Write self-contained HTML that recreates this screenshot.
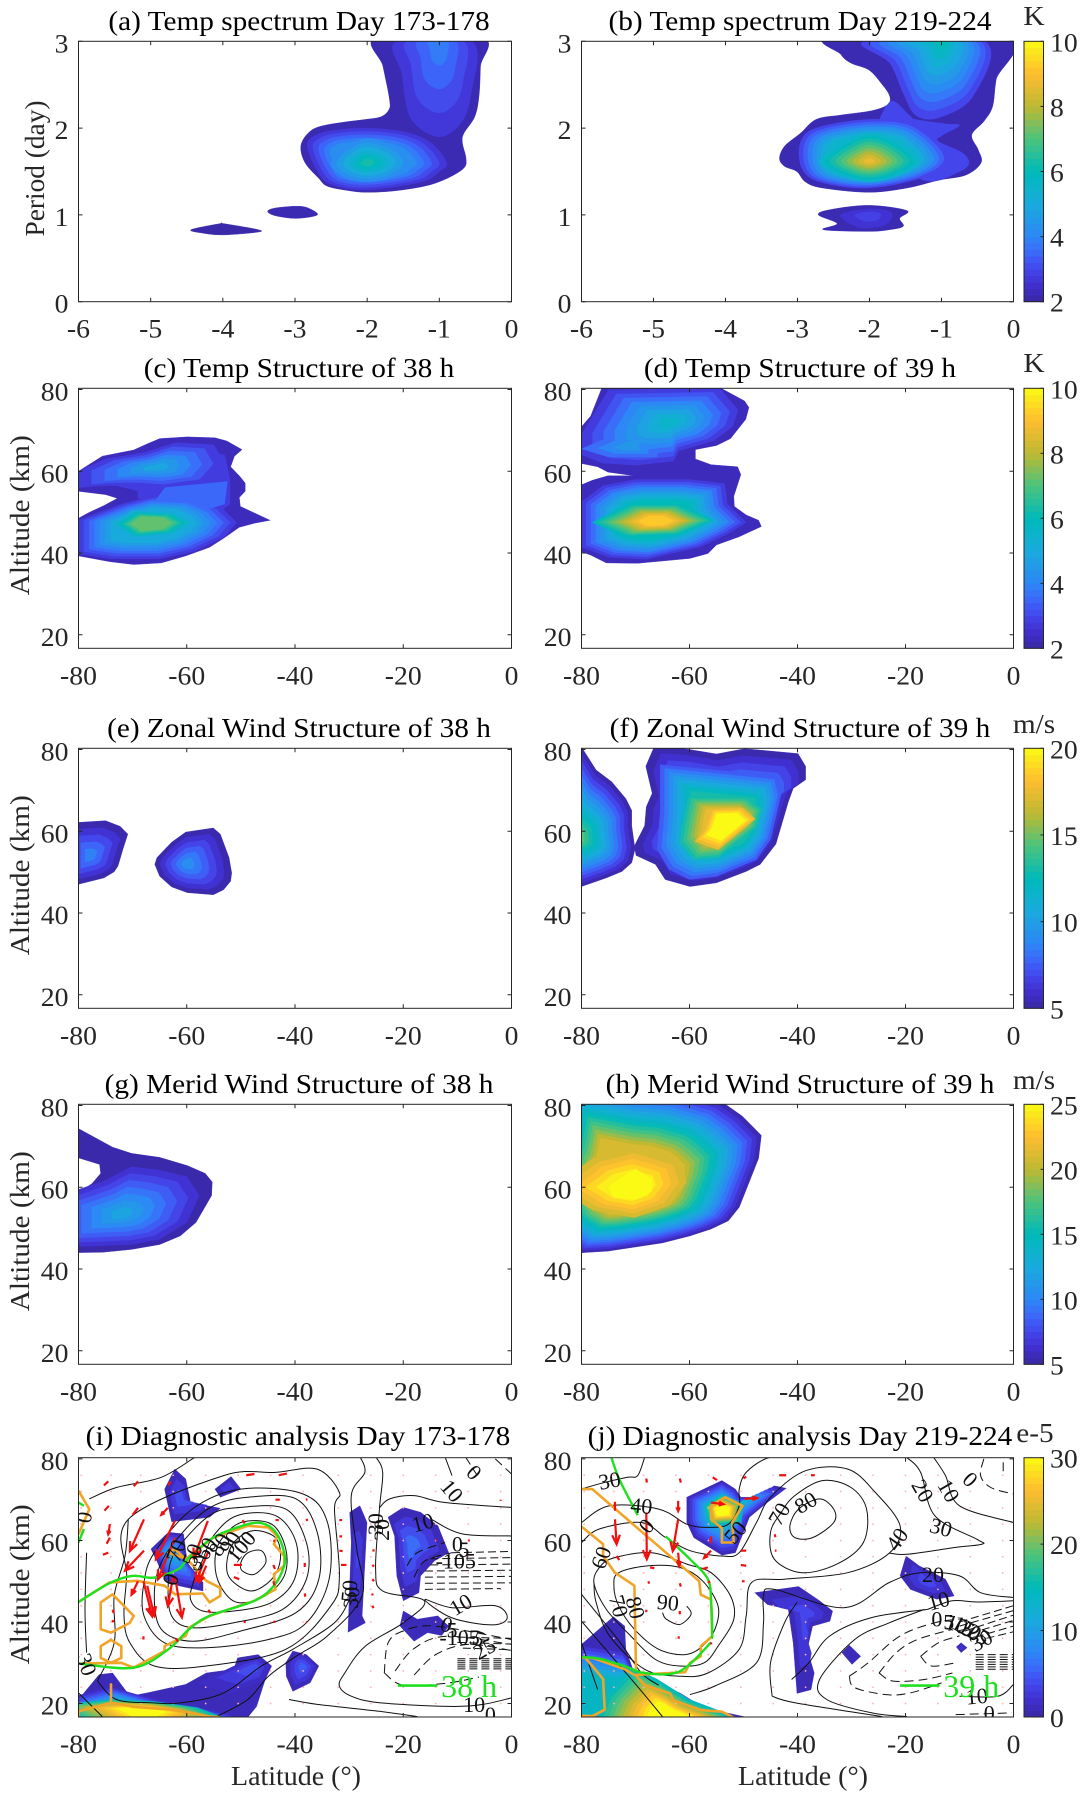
<!DOCTYPE html>
<html lang="en">
<head>
<meta charset="utf-8">
<title>Temperature and wind structure panels</title>
<style>
html,body{margin:0;padding:0;background:#fff;}
svg{display:block;font-family:"Liberation Serif",serif;}
</style>
</head>
<body>
<svg id="figure" xmlns="http://www.w3.org/2000/svg" width="1087" height="1799" viewBox="0 0 1087 1799"></svg>
<script>
// ---------- tick labels ----------
const periodTicks=[0,1,2,3];
const waveTicks=[-6,-5,-4,-3,-2,-1,0];
const altTicks=[20,40,60,80];
const latTicks=[-80,-60,-40,-20,0];
const cbarTempTicks=[2,4,6,8,10];
const cbarZonalTicks=[5,10,15,20];
const cbarMeridTicks=[5,10,15,20,25];
const cbarDiagTicks=[0,10,20,30];

// ---------- filled contour data: [low level, high level, centre, inner scale, outline] ----------
const blobsA=[
 [2.2,2.2,[-2,1.6],1,[[-1.86,3.05],[-1.78,2.71],[-1.69,2.33],[-1.70,2.21],[-1.81,2.13],[-2.02,2.10],[-2.31,2.07],[-2.65,2.02],[-2.82,1.94],[-2.92,1.79],[-2.86,1.6],[-2.67,1.42],[-2.55,1.33],[-2.26,1.28],[-2.0,1.26],[-1.59,1.28],[-1.16,1.34],[-.87,1.43],[-.66,1.54],[-.63,1.65],[-.68,1.83],[-.66,1.94],[-.51,2.13],[-.45,2.37],[-.43,2.71],[-.42,3.05]]],
 [2.7,4.2,[-1,3],0,[[-1.59,3],[-1.52,2.63],[-1.40,2.12],[-1.02,1.9],[-.70,2.06],[-.56,2.4],[-.55,3]]],
 [2.7,4.2,[-2,1.6],.62,[[-2.83,1.79],[-2.75,1.90],[-2.5,1.97],[-2,2.0],[-1.45,1.95],[-1.1,1.82],[-.9,1.6],[-1.0,1.5],[-1.25,1.38],[-2,1.29],[-2.5,1.35],[-2.7,1.52]]],
 [4.2,6.7,[-2,1.6],0,[[-2.5,1.6],[-2.3,1.78],[-2,1.88],[-1.6,1.78],[-1.4,1.6],[-1.6,1.45],[-2,1.38],[-2.35,1.45]]],
 [2.1,2.6,[-4,.84],0,[[-4.44,.83],[-4.04,.9],[-3.99,.9],[-3.51,.83],[-3.53,.8],[-3.99,.77],[-4.28,.79]]],
 [2.2,2.3,[-3,1.03],0,[[-3.38,1.04],[-3.27,1.08],[-2.98,1.1],[-2.82,1.08],[-2.69,1.0],[-2.98,.96],[-3.27,.99]]]
];
const blobsB=[
 [2.2,2.2,[-2,1.6],1,[[-2.51,3.05],[-2.40,2.85],[-2.26,2.75],[-2.01,2.67],[-1.84,2.52],[-1.72,2.37],[-1.75,2.27],[-1.97,2.2],[-2.40,2.15],[-2.74,2.1],[-2.96,1.94],[-3.18,1.79],[-3.25,1.65],[-3.18,1.56],[-3.01,1.5],[-2.89,1.38],[-2.65,1.31],[-2.01,1.26],[-1.48,1.31],[-1.04,1.4],[-.66,1.46],[-.45,1.6],[-.49,1.75],[-.58,1.92],[-.41,2.08],[-.29,2.25],[-.24,2.56],[-.11,3.05]]],
 [3,3,[-1,1.7],1,[[-1.72,2.3],[-1.45,2.15],[-1.36,2.1],[-.95,2.05],[-.75,2.03],[-.98,1.92],[-1.05,1.85],[-.72,1.72],[-.62,1.6],[-.75,1.5],[-1.24,1.4],[-1.9,1.8]]],
 [3,6.4,[-1,3],0,[[-2.06,3],[-1.72,2.75],[-1.53,2.4],[-1.36,2.15],[-1.04,2.12],[-.56,2.37],[-.41,3]]],
 [3,5.5,[-2,1.62],.62,[[-2.96,1.83],[-2.74,2.0],[-2.01,2.1],[-1.36,2.04],[-.9,1.67],[-1.24,1.44],[-2.01,1.31],[-2.69,1.38],[-2.94,1.54]]],
 [5.5,9.1,[-2,1.62],0,[[-2.7,1.62],[-2.35,1.85],[-2,1.95],[-1.6,1.85],[-1.3,1.62],[-1.6,1.45],[-2,1.38],[-2.4,1.45]]],
 [2.2,2.2,[-2,.97],1,[[-2.71,1.0],[-2.55,1.06],[-2.01,1.11],[-1.48,1.05],[-1.58,.96],[-1.53,.87],[-1.72,.83],[-2.01,.81],[-2.64,.83],[-2.45,.9]]],
 [2.6,3.2,[-2,1.0],0,[[-2.4,1.0],[-2,1.07],[-1.7,1.03],[-1.75,.9],[-2,.85],[-2.2,.87]]]
];
const blobsC=[
 [2.3,2.3,[-66,50],1,[[-80,60],[-78.1,61.6],[-75.6,63.7],[-69.8,65.2],[-67.3,66.7],[-65,68],[-59.9,68.4],[-54.8,68.2],[-52.6,67.4],[-49.8,65.3],[-51.2,63.7],[-51.9,61.1],[-50.3,58.9],[-49.2,57.1],[-49.2,55.1],[-50.3,53.6],[-50.1,51.4],[-47.5,49.8],[-44.6,48],[-47.5,47.3],[-50.3,46.3],[-53.2,43.6],[-55.8,41.4],[-60.2,39.3],[-64.7,37.6],[-69.8,37.2],[-74.3,37.9],[-80,39.3],[-80,48.5],[-78.1,49.9],[-75.3,51.6],[-72.8,53.4],[-75,54.3],[-80,55.1]]],
 [2.8,2.8,[-62,55],1,[[-69,55.2],[-69,53.5],[-63,51],[-53.5,50.5],[-52,52],[-52,58],[-53,64],[-60,65],[-68,60],[-73,56.5]]],
 [3.5,3.5,[-62,55],1,[[-64,56],[-52.5,57.5],[-53,52],[-58,50],[-66,52.5]]],
 [2.8,5,[-66.8,47.3],.55,[[-80,39.8],[-74,38.6],[-65,38.6],[-58.5,40.5],[-53,44],[-50.8,47.5],[-53.5,51],[-58,53.5],[-66,54],[-72,52],[-80,48]]],
 [5,7.2,[-66.8,47.3],.5,[[-74,47],[-70,50.5],[-62,50],[-58.5,47.5],[-62,44.5],[-70,43.5]]],
 [2.8,5.3,[-65.5,61],0,[[-80,56],[-80,60],[-75,63],[-68,64.5],[-62,67],[-55,66.5],[-53,62],[-56,57.5],[-64,56],[-70,56.5],[-75,56.5]]]
];
const blobsD=[
 [2.3,2.3,[-66,55],1,[[-80,70.9],[-78.3,73.5],[-76.2,80.5],[-54.4,80.5],[-49.8,77.2],[-49,75.6],[-49.6,72.7],[-52.4,68],[-55,66.3],[-58.9,65.3],[-58.9,63],[-56,61.6],[-51.1,61.1],[-50.5,59.2],[-51.8,53.9],[-51.7,51.4],[-49.5,49.3],[-47.2,48],[-46.7,46.5],[-50.8,44],[-55,42],[-56.6,39.9],[-59.9,38.7],[-69.6,37.5],[-75.4,37.6],[-78.3,39.5],[-80,40.3],[-80,56.7],[-78,57.8],[-75.1,58.9],[-70.2,58.9],[-75.1,59.8],[-77,61.1],[-80,61.9]]],
 [2.8,6,[-66,47.8],.5,[[-80,41.5],[-75,39],[-68,38.5],[-58,41.5],[-52.5,45],[-49.5,47.5],[-53,52],[-53.5,57],[-60,58],[-70,58],[-76,56.5],[-80,52.5]]],
 [6,9.2,[-66,47.8],.3,[[-78,47.5],[-71,52],[-62,52],[-55.5,48],[-62,44.5],[-72,44]]],
 [2.8,6,[-63.5,72],0,[[-80,64],[-80,69],[-75,79.9],[-54.5,80.4],[-51,75],[-52,71],[-55.5,67.5],[-62,65],[-63,62.5],[-70,61.5],[-76,62]]],
 [3.6,4.9,[-71,66],0,[[-80,65.5],[-72,70],[-66,69],[-66,63.5],[-75,63.5]]]
];
const blobsE=[
 [5.3,9.4,[-78,54],0,[[-82,62],[-75,62.6],[-72.3,61.2],[-70.9,59.3],[-71.8,55.6],[-72.7,51.5],[-73.4,50.1],[-75.3,48.6],[-82,46.4]]],
 [5.3,9.8,[-60,52],0,[[-65.9,51.9],[-65.5,53.6],[-62.8,57.3],[-60.2,59.8],[-55.1,60.8],[-53.8,59.3],[-52.2,53.6],[-51.7,49.8],[-51.9,47.8],[-53.2,45.7],[-55.1,44.5],[-59.9,45],[-62.8,46.4],[-65,49]]]
];
const blobsF=[
 [5.3,16,[-81,58.5],0,[[-85,85],[-80,80.6],[-77.3,75],[-74.4,72.1],[-71.8,68],[-70.7,65.1],[-70.7,61.4],[-70.1,55.6],[-70.7,52.3],[-72.5,50.2],[-75.4,48.6],[-80,46.5],[-85,44]]],
 [5.3,7.5,[-53,62],.72,[[-70.2,56.4],[-68.3,61.4],[-68,66],[-66.9,69.3],[-68.1,75.9],[-66.5,80.8],[-61.8,80.4],[-55,78.9],[-49.8,80.2],[-39.9,79],[-38.5,75.9],[-38.5,72.6],[-40.8,70.5],[-41.7,67.2],[-44,56.9],[-46.9,51.9],[-49.5,50.2],[-55,47.4],[-59.9,46.5],[-64.5,48.2],[-66.3,51.9],[-69.9,54.1]]],
 [7.5,13,[-53,62],.55,[[-65.4,76.3],[-55.3,75],[-43.7,73.4],[-43,69.3],[-45,58.1],[-47.6,53.1],[-55,49],[-60,48.2],[-63.8,50.7],[-66,55.6],[-65.4,64.7]]],
 [13,17.5,[-53,62],.55,[[-60.2,68.4],[-49.5,68.4],[-46.6,65.5],[-47.6,61],[-54.7,53.6],[-59.2,53.1],[-61.8,57.3],[-61.2,62.2]]],
 [17.5,20,[-53,62],.65,[[-56,65.5],[-50.2,65.8],[-47.8,63],[-54.7,55.5],[-59,57.5],[-57.5,60]]]
];
const blobsG=[
 [5.3,5.3,[-72,53.5],1,[[-82,75.8],[-73.7,69.8],[-70.2,68.3],[-65,67.3],[-59.9,65.3],[-56.6,63.4],[-55.3,61.3],[-55.4,58],[-58.3,51.4],[-61.2,48.1],[-65,46],[-70.2,44.8],[-75.6,44.1],[-82,44],[-82,57],[-77.5,60.9],[-75.9,63.4],[-76.1,65.6],[-82,68]]],
 [6.5,13,[-72,53.5],0,[[-85,57.2],[-75,61.7],[-70.2,65],[-65,64.2],[-60,62.6],[-57.7,58],[-60,51.4],[-65,47.3],[-70.2,46],[-85,45.2]]]
];
const blobsH=[
 [5.5,21,[-71,60],.42,[[-80,44],[-75.1,44.4],[-65,46.4],[-59.9,48.1],[-56,49.8],[-52.8,51.8],[-50.8,55.1],[-47.2,67.1],[-46.7,72.7],[-50.2,77.4],[-54,80.9],[-62,84],[-70,85],[-84,88.6],[-86,76.7],[-92,60],[-85,47.7]]],
 [21,24.5,[-71,60],.45,[[-85,60],[-78,67],[-70.2,69.6],[-61.8,66.3],[-60.5,61.3],[-63.8,55.5],[-70.2,52.6],[-78,54.5]]],
 [25,25,[-71,60],1,[[-75,60],[-73,62],[-70,64.5],[-67,62],[-67,59],[-70,57],[-74,57.5]]]
];
const blobsI=[
 [1,6,[-61.2,70.2],0,[[-62.2,77.5],[-60.2,75.1],[-59.3,69.3],[-53.8,67.9],[-55.8,65.7],[-62.8,64.6],[-64.1,72.6]]],
 [1,4,[-52.5,73],0,[[-54.8,72.6],[-51.8,75.7],[-50,72.6],[-53.8,70.6]]],
 [1,13,[-63,57],0,[[-66.6,57.9],[-63.4,62],[-60.6,61.6],[-59.9,54.6],[-57,49.7],[-57,47.6],[-61.5,48.9],[-64.1,50.5],[-65.4,54.6]]],
 [1,4,[-28.5,55],.1,[[-29.9,66.9],[-28,68.5],[-26.7,64.4],[-27.6,41.5],[-27,39.8],[-30.2,37.5],[-29.6,59.5]]],
 [1,7.5,[-18.5,59],0,[[-22.8,65.7],[-20,68.1],[-16.8,66.9],[-13.6,63.6],[-11.6,57],[-14.2,55],[-16.8,51.3],[-17.1,47.2],[-20,45.2],[-21.2,51.3],[-21.6,61.1]]],
 [1,2.5,[-16,39],0,[[-20,42.7],[-17.4,40.7],[-13.6,41.5],[-11.6,39],[-12.9,36.7],[-15.5,37.4],[-18,35.3],[-20.6,39]]],
 [1,6.5,[-38.5,29],0,[[-41.7,30],[-40.4,32.9],[-37.9,32],[-35.6,29.2],[-37.2,25.1],[-40.4,23],[-41.6,26.7]]],
 [1,1,[-60,22],1,[[-85,17],[-80,21],[-76.2,27.1],[-73.7,27.5],[-70.5,21.8],[-67.3,22.6],[-60.2,24.7],[-56.4,27.5],[-51.3,28.4],[-50.6,31.2],[-46.8,32],[-44.3,29.2],[-45.5,25.9],[-47.1,19.3],[-49.1,16],[-85,16]]],
 [1.5,5.5,[-47.5,29],0,[[-58,25],[-50,30],[-46.8,31.4],[-44.8,29],[-46,25.5],[-52,22.5]]],
 [2,15,[-68,14],.6,[[-84,18],[-80,22],[-74,24],[-66,21],[-56,18.5],[-50,16.5],[-68,9]]],
 [15,36,[-68,18.5],0,[[-85,19.5],[-74,21],[-66,20.5],[-58,19],[-53,16.5],[-68,8]]]
];
const blobsJ=[
 [1,12,[-54,67.5],.42,[[-60.5,70.6],[-54,74.7],[-51.5,72.6],[-50.5,70.6],[-47.6,70.6],[-44.3,73.4],[-42.1,72.8],[-45.6,69.3],[-48.9,65.7],[-51.5,57],[-54,56.4],[-59.2,60.7],[-60.5,64.4]]],
 [12,32,[-54,67.5],.3,[[-57.5,68.5],[-54,71.5],[-50,69],[-50.5,64],[-56.5,63.5]]],
 [1,5,[-38.5,42],0,[[-47.9,47.2],[-39.8,48.7],[-35.9,45.2],[-33.5,42.7],[-34,40.2],[-37.2,39],[-38.2,33.3],[-36.9,27.5],[-37.5,23.4],[-40.1,22.5],[-40.8,34.9],[-41.7,43.1],[-45.6,44.3]]],
 [1,5,[-16,50],0,[[-19.9,56.2],[-17.5,53.8],[-12.6,50.5],[-11,46.4],[-14.2,45.6],[-19.1,48],[-21,51.3]]],
 [1,2.5,[-30,32],0,[[-31.8,32.5],[-30.4,34.3],[-28.3,31.6],[-29.9,29.6]]],
 [1,3.5,[-9.7,33.7],0,[[-10.6,33.9],[-9.7,34.9],[-8.6,33.7],[-9.7,32.5]]],
 [1,1,[-70,25],1,[[-85,34.5],[-80,34.5],[-74.1,41.3],[-72,39],[-71.8,33.3],[-70.5,28.4],[-68.3,25.9],[-61.8,22.6],[-57.3,18.9],[-48.9,16.5],[-85,16]]],
 [2.5,14,[-70,20],.45,[[-100,38],[-72.5,32.5],[-70,27],[-62,21.5],[-53,16.8],[-55,9],[-100,9]]],
 [14,36,[-64,17.5],0,[[-78,16],[-76,22],[-71,29],[-66,26],[-60,21],[-53,17.5],[-50,16],[-64,8]]]
];

// ---------- black contour lines: [closed, dashed, points] ----------
const contoursI=[
 [1,0,[[-50,54.6],[-48.7,57],[-46.2,57.5],[-45.4,54.6],[-47.5,51.7],[-49.7,52.5]]],
 [1,0,[[-52.6,54.6],[-51.3,59.5],[-47.8,62.4],[-43.6,60.7],[-42.7,55.4],[-44.3,50.5],[-48.1,47.6],[-51.9,50.5]]],
 [1,0,[[-54.8,54.6],[-53.8,59.9],[-50,64.4],[-44.3,64],[-41.7,57.9],[-42,51.3],[-45.5,46.4],[-50.7,44.8],[-53.8,48.9]]],
 [1,0,[[-57,55.4],[-55.1,61.1],[-50.7,66.1],[-43.6,66.1],[-39.8,59.5],[-40.1,50.5],[-44.3,44.8],[-51.3,42.7],[-57,42.7],[-59.3,45.6],[-58.6,50.5]]],
 [1,0,[[-63.4,49.7],[-62.2,57],[-55.8,66.1],[-50,68.1],[-41.7,67.7],[-37.9,59.5],[-37.9,50.5],[-42.3,43.1],[-51.3,39.8],[-59,38.6],[-62.8,41.5]]],
 [1,0,[[-66,46.4],[-64.7,54.6],[-60.2,62.8],[-55.1,68.5],[-48.7,70.6],[-39.8,70.2],[-35.9,62],[-35.6,50.5],[-39.8,42.3],[-50,37.8],[-59,35.3],[-64.7,38.2]]],
 [1,0,[[-67.9,41.5],[-67.9,49.7],[-66,57],[-59,67.7],[-50,72.6],[-38.5,71.4],[-34,64.4],[-33.7,50.5],[-37.9,39.8],[-44.9,35.7],[-56.4,33.7],[-64.1,34.9]]],
 [1,0,[[-71.6,41.5],[-71.1,51.3],[-70.8,65.2],[-53.2,75.9],[-43.6,76.7],[-35.9,77.5],[-31.8,71.8],[-32.7,67.7],[-31.8,51.3],[-33.4,43.9],[-41.7,33.3],[-56.4,29.2],[-66,29.2],[-70.5,34.9]]],
 [0,0,[[-78,70.2],[-73,73],[-64.7,75.5],[-58.3,80.6]]],
 [0,0,[[-78.5,57],[-78.8,43.1],[-78.5,32.5]]],
 [0,0,[[-76.5,25.5],[-73,21],[-66.6,20.2],[-60.9,20.2],[-53.2,22.6],[-46.2,29.2],[-40.4,33.3],[-32.7,39.8],[-29.6,46.4]]],
 [0,0,[[-76.5,25.5],[-73.4,34.9],[-73.4,46.4],[-71.4,56.2],[-70.8,65.2]]],
 [0,0,[[-80,22.6],[-75.6,16.8]]],
 [0,0,[[-54.5,16.8],[-48.7,21],[-44.9,26.7],[-39.8,31.6],[-34,36.6],[-27.6,46.4],[-28.6,57.9],[-29.6,71],[-27.1,76.7],[-28,80.6]]],
 [0,0,[[-25.1,80.6],[-23.8,76.7],[-24.4,67.7],[-25.1,53],[-23.8,47.6],[-16.1,45.2],[-20,39.8],[-27,34.1],[-30.8,27.5],[-31.8,24.3],[-29.6,21.8],[-24.4,20.2],[-11.6,19.3],[-5.3,19.8],[0,21.4]]],
 [0,0,[[-41.1,21],[-35.9,19.8],[-24.4,18.1],[-17.4,16.8]]],
 [0,0,[[-24.4,68],[-22.5,70.2],[-18,71],[-12.3,69.3],[0,68.1]]],
 [0,0,[[-12.3,80.6],[-11,75.9]]],
 [0,0,[[-14.8,65.2],[-9.1,61.6],[0,61.1]]],
 [1,0,[[-16,45.5],[-11,43.5],[-3,44],[-.8,41],[-3.5,39.3],[-11,41]]],
 [0,1,[[-8.5,80.5],[-6.5,76.3]]],
 [0,1,[[-3,80],[0,76.3]]],
 [0,1,[[-19.3,53.8],[-17.4,57],[-12.3,59.5]]],
 [0,1,[[-18,51],[-16,55],[-11,57]]],
 [0,1,[[-23.5,27.5],[-22.8,34.9],[-20,37.8],[-14.2,39],[0,35.7]]],
 [0,1,[[-21.5,28],[-18,33.5],[-12,36.5],[0,34.5]]],
 [0,1,[[-18,27],[-14,32],[-8,34.5],[0,33]]],
 [0,1,[[-23.5,27.5],[-20,24.5],[-12,25],[-6,26.5]]]
];
const contoursJ=[
 [0,0,[[-80,72.6],[-76.7,73.9],[-71.5,75.5],[-69.6,75.9],[-68.3,80.4]]],
 [0,0,[[-80,64.4],[-74.8,68.5],[-65.7,67.7],[-60.5,64],[-56.6,63.2],[-52.8,64],[-50.8,68.5],[-50.8,72.6],[-49.5,76.7],[-45.6,80.2],[-41.1,80.6]]],
 [0,0,[[-80,59.5],[-76.7,62.8],[-68.9,64.4],[-64.4,60.7],[-59.9,57.5],[-54,56.2],[-50.8,57],[-47.6,64.4],[-45,70.6],[-38.5,77.1],[-30.7,77.5],[-25.6,71.8],[-21,63.6],[-23,56.9],[-30.7,52.1],[-42.4,50.5],[-48.5,49.7],[-49.5,41.5],[-50.8,33.3],[-56.6,27.5],[-61.8,26.7],[-68.3,28.4],[-74.8,36.6],[-77.3,44.8],[-77.7,49.7]]],
 [1,0,[[-77.7,49.7],[-76.4,53.8],[-73.8,55.8],[-67,57],[-60.5,54.2],[-56,52.1],[-52.4,46.4],[-51.8,40.7],[-54.7,34.1],[-57.3,30],[-61.8,29.2],[-66.3,30.8],[-70.9,36.6],[-75.4,43.1]]],
 [1,0,[[-74,48.9],[-73.1,52.1],[-67.6,53.8],[-61.8,53.4],[-57.6,50.1],[-54.7,43.9],[-55.3,38.2],[-57.6,34.1],[-60.8,32],[-65.7,33.3],[-70.2,38.2],[-73.1,43.9]]],
 [0,0,[[-65,42.3],[-64.3,40.7],[-61.8,39.4],[-59.7,41.9],[-60.5,43.9]]],
 [1,0,[[-45,62],[-43,66.9],[-40.5,71],[-35.3,74.7],[-30.1,73],[-27.2,67.7],[-27.8,59.5],[-32.7,54.2],[-39.2,52.1],[-44.3,55.4]]],
 [1,0,[[-41.4,63.6],[-39.8,67.7],[-35.9,70.2],[-33.3,67.7],[-33.3,64.4],[-37.2,60.7],[-40.5,60.7]]],
 [0,0,[[-23,56.9],[-19.7,56.6],[-10.7,58.3],[-5.8,59.1],[-6.8,60.3],[-14.6,66.1],[-17.2,76.7],[-20,80.6]]],
 [0,0,[[-15.9,43.1],[-26.2,41.1],[-34,36.6],[-37.9,30],[-41.1,25.9]]],
 [0,0,[[-59.9,22.2],[-55.3,24.3],[-47.6,30],[-46.3,39.8],[-46.3,46.4],[-44.3,48],[-31.4,43.5],[-23,49.7],[-17.2,52.1],[-10,51.3],[-6.1,47.2],[0,46]]],
 [0,0,[[-44.7,21.8],[-45,30],[-42.4,39.8],[-40.1,44.8]]],
 [0,0,[[-44.7,21.8],[-40.5,20.2],[-24.3,16.8]]],
 [0,0,[[-16.5,43.1],[-23,39.8],[-29.4,35.7],[-35.9,25.9],[-34.6,21],[-26.2,17.7],[-19.7,16.8]]],
 [0,0,[[-14.9,80.6],[-12.6,75.9],[-10,68.5],[0,64.4]]],
 [0,0,[[-15.9,43.1],[-11.3,45.2],[-6.8,44.9],[0,45.2]]],
 [0,0,[[-10,21.8],[-2.9,21.8],[0,24.7]]],
 [0,0,[[-80,46.8],[-72.8,34.9],[-68.9,27.5],[-65.7,24.5]]],
 [0,0,[[-80,40.2],[-70.2,25.1],[-65,16.8]]],
 [0,0,[[-80,34.9],[-77,23.4]]],
 [0,1,[[-30.4,26.7],[-26.9,30],[-21,36.6],[-14.6,39.8],[-10,40.7]]],
 [0,1,[[-30.4,26.7],[-29.4,23.9],[-23.6,22.2],[-19.1,22.6],[-13.3,25.1]]],
 [0,1,[[-24.9,27.5],[-21.7,32.5],[-17.8,35.7],[-11.3,38.2]]],
 [0,1,[[-24.9,27.5],[-22.3,25.5],[-16.5,25.9],[-11.3,27.5]]],
 [0,1,[[-17.2,31.6],[-13.9,34.9],[-10,36.6]]],
 [0,1,[[-17.2,31.6],[-15.2,29.2],[-10.7,30]]],
 [0,1,[[-5.5,80],[-6.1,75.9],[-4.2,73],[0,71.4]]],
 [0,1,[[-1.9,79.2],[-1.9,76.3]]],
 [0,1,[[-10.7,17.3],[-.3,17.7]]]
];

// ---------- dashed stripe rows: [lat start, lat end, alt start, alt end] ----------
const stripesI=[
 [-11,0,57,57.3],[-15,0,55.5,55.8],[-15,0,54,54.2],[-16,0,52.5,52.7],[-16,0,51,51.2],[-16,0,49.5,49.6],[-16,-2,48,48.2],
 [-10,0,36.3,36],[-10,0,35,34.6],[-9,0,33.6,33.2],[-10,0,31,31],[-10,0,30.5,30.5],[-10,0,30,30],[-10,0,29.5,29.5],[-10,0,29,29],[-10,0,28.5,28.5]
];
const stripesJ=[
 [-10,0,40,44],[-10,0,39,42.8],[-9,0,37.8,41.7],[-8,0,37.2,40.4],[-7,0,36.3,39],[-5,0,36,37.6],
 [-7,0,32,32],[-7,0,31.4,31.4],[-7,0,30.8,30.8],[-7,0,30.2,30.2],[-7,0,29.6,29.6],[-7,0,29,29],[-7,0,28.4,28.4]
];

// ---------- contour labels: text, lat, alt, rotation ----------
const labelsI=[["0",-79,65.7,-80],["30",-78.5,29.6,70],["30",-25.1,64,-90],["20",-24,62.6,-90],["10",-16.4,64.4,-15],["10",-11,72.2,50],["0",-6.9,76.7,45],["0",-10,59.1,0],["5",-8.8,57.8,0],["-105",-10.3,55,0],["10",-9.4,44.3,-30],["0",-12,39.4,20],["5",-11,38,0],["-105",-9.6,36.2,0],["5",-6,36,20],["25",-5,33.5,-30],["10",-6.9,19.8,0],["0",-3.9,17.3,0],["50",-30,47.6,-85],["30",-29.6,46,-85],["70",-62,57.5,-70],["50",-59,56.5,-70],["60",-56.5,58,-60],["80",-54,59,-60],["90",-52,59.5,-60],["100",-50,58.5,-50],["0",-63,50.5,-70],["5",-58,54.5,0]];
const labelsJ=[["30",-74.8,74.7,-10],["40",-68.9,68.5,5],["0",-68,63.6,-50],["60",-76.4,55.8,-70],["70",-73.1,43.9,75],["80",-70,43.5,75],["90",-64,44.8,5],["50",-51.5,62,-50],["70",-43.4,66.5,-60],["80",-38.5,69.3,-30],["40",-21.6,60.3,-55],["20",-16.8,72.2,60],["10",-12,72.2,60],["0",-8,75,45],["30",-13.4,63.2,15],["20",-14.9,51.7,0],["10",-13.9,45.2,-15],["0",-14.2,40.7,0],["5",-12,40,0],["10",-10.5,39.5,20],["15",-9.3,39,30],["20",-8,38,30],["25",-6.5,37,30],["30",-6,35.5,-30],["10",-6.8,21.8,-5],["0",-4.5,17.7,0]];

// ---------- orange contours ----------
const orangeI=[
 [0,[[-80,72.2],[-78,67.7],[-80,61.5]]],
 [0,[[-80,44.9],[-74.3,49.7],[-69.2,50.1],[-64.1,48.9],[-62.2,46.8],[-57,47],[-55.8,44.8],[-53.8,46.4],[-53.8,48.4],[-56.4,50.1],[-59.9,55.4],[-63.4,57],[-62.2,57.9],[-60.2,55.4],[-55.1,60.7],[-48.7,63.6],[-44.9,63.2],[-43.3,61.1],[-43.9,59.1],[-42,56.2],[-42,53.8],[-43.9,51.7],[-43.6,48],[-47.5,45.2],[-55.8,41.5],[-59.6,38.6],[-60.2,36.6],[-64.1,34.1],[-64.1,32.9],[-69.8,28.8],[-72.1,30],[-80,29.8]]],
 [1,[[-75.9,44.8],[-73.7,46.8],[-69.8,41.5],[-70.5,39.8],[-74,37.4],[-75.9,38.2]]],
 [1,[[-75.9,34.1],[-74,35.6],[-72.1,34.1],[-72.1,31.2],[-74,30],[-75.9,31.2]]],
 [0,[[-80,16.9],[-80,18.1],[-74,20.2],[-74,24.7],[-74,20.2],[-69.8,19.2],[-62.8,18.5],[-59,17.7],[-55.8,16.8],[-54,16.7]]]
];
const orangeJ=[
 [0,[[-80,72.6],[-78,72.6],[-68.3,61.5],[-58.2,50],[-57.9,46.7],[-56,45.5],[-55.8,36.5],[-57.9,34.1],[-57.9,31.6],[-59.9,30],[-60.8,27.7],[-70.2,27],[-72,28.4],[-77.9,31.2],[-80,31.3]]],
 [0,[[-80,63.4],[-76,59.1],[-76,56.2],[-73.8,52.1],[-70.2,48.9],[-69.9,28.4]]],
 [1,[[-56,68.5],[-53.4,70.6],[-50.2,68.5],[-52.1,64.4],[-51.8,59.5],[-54,59.5],[-54,63],[-56,65.2]]],
 [0,[[-79.3,31.2],[-78,29.2],[-76,26],[-75.7,18.5],[-78,16.9],[-80,17]]],
 [0,[[-70,27],[-68.3,24.5],[-63.6,22.5],[-63,20.8],[-57.9,18.4],[-54,18],[-52,16.7]]]
];

// ---------- green 38 h / 39 h contours ----------
const greenI=[
 [[-80,69.3],[-79,68.5]],
 [[-80,59.5],[-79,62.8]],
 [[-80,44.9],[-74.3,49.5],[-70.1,51.3],[-66,50.9],[-61.5,53],[-59.9,55.4],[-55.1,60.7],[-48.7,64],[-45.5,64],[-43.3,61.5],[-42,57],[-42,53.8],[-43.9,48.9],[-47.5,45.2],[-55.8,41.5],[-59.6,38.2],[-63.4,33.3],[-69.8,28.8],[-80,29.8]]
];
const greenJ=[
 [[-74.5,80.5],[-73,75],[-69.6,66.2]],
 [[-64.4,61],[-59.9,55.4],[-56.6,50.5],[-56,45],[-55.8,37],[-56,36]],
 [[-80,31.4],[-76.7,31],[-72.1,29.2],[-68.3,27.5],[-61.8,27.9],[-56,35]]
];

// ---------- wave activity flux arrows: latitude, altitude, u, v ----------
const arrowLatI=[-62.2,-56.1,-67.9,-67.9,-62.2,-56.1,-56.4,-69,-68,-67.3,-62.5,-62.2,-74.5,-69,-63,-49,-43,-74.4,-69,-63.5,-74.2,-74.2,-74.5,-43.6,-38,-43.6,-38,-31.8,-31.8,-31.8,-31.5,-44,-38.2,-38.2,-51.3,-51.3,-49.7,-44,-73.7,-73.7,-68,-62,-56,-49.5,-44,-25.7,-25.7,-25.7,-25.7,-25.7,-14,-8,-2,-38,-44];
const arrowAltI=[64.8,64.8,65.2,57.5,60.7,57,53.8,50,50,48.9,51.3,51.3,74.5,74.5,74.5,76,76,68.5,68,68,64,60.7,57,70,70,65,65,65,61,57.5,54,54,54.5,47,54,51,65,50,43,40.5,36.5,36,43,40,40,57.5,54,50.5,47,44,60,60,70,40,60];
const arrowUI=[-3.5,-2.6,-2.6,-3.5,-3.1,-2.2,-1.3,-1.2,1.6,1.3,-1,1.3,-.8,-.8,-.4,1.5,1.5,-.8,-1,-1.2,-.3,-.6,-1,.8,.3,.6,.4,.5,.5,.6,1,.3,0,.1,1.5,1,.4,.2,.2,.1,0,.4,.4,.4,.4,.4,.3,.3,0,.2,.2,.3,0,.2,.3];
const arrowVI=[-9.4,-9,-7.8,-4.9,-10.2,-7,-4,-3.3,-8.6,-7.4,-7.4,-10.2,-1,-1.2,-1,.3,.4,-1.2,-1.7,-1.7,-2.5,-1.5,-.5,0,.1,0,.1,0,0,-.1,0,-1,-1,-.8,0,-.5,-.8,-1,-.8,-.6,-.8,-.9,-.8,0,.1,.1,-.4,-.5,-.5,-.6,.1,0,-.3,-.1,-.2];
const arrowLatJ=[-73.8,-68,-62.1,-62.1,-73.8,-62.1,-56,-49.8,-56,-56,-68,-61.8,-55.7,-49.5,-43.4,-37.5,-73.5,-67.3,-56.6,-50.5,-50.3,-56.2,-67.6,-61.8,-50.5,-44.2,-44.2,-68,-61.8,-62,-56];
const arrowAltJ=[65.2,66.9,65.2,57,69.5,69.7,69.3,70.2,61,57.5,75.2,75.2,75.5,75.7,76,76,56.2,53.4,53.4,54,50,50,50,49.5,57.5,61.5,57.5,43,42.7,36.5,35];
const arrowUJ=[.3,.1,-1,.2,0,0,2.3,2.3,-.1,-1.3,.1,.2,.8,-.5,1.3,.7,.5,.8,-1,1,.5,-.4,.1,.2,1,.1,.3,0,0,0,0];
const arrowVJ=[-6.1,-11.5,-7.8,-3.3,-2.2,-2.5,-.4,.2,-1.7,-1.8,-1,-1,-.7,-.5,0,0,-1,-.2,-.4,-.2,0,-.4,-.6,-.8,0,-.7,0,-.6,-.8,-.6,-.5];

// ---------- faint grid dots ----------
const dotLats=[-79.5,-74,-68.5,-62.5,-56.5,-50.5,-44.5,-38.5,-32,-26,-20,-14,-8,-2];
const dotAlts=[20,24,28,32,36,40,44,48,52,56,60,64,68,72,76];

// ---------- legend ----------
const legendTextI="38 h";
const legendTextJ="39 h";
const legendLine=[-21,-13.7,24.4];
const legendTextPos=[-13,21.6];

// ---------- panel layout ----------
const panelNames=["a","b","c","d","e","f","g","h","i","j"];
const panelTitles=["(a) Temp spectrum Day 173-178","(b) Temp spectrum Day 219-224","(c) Temp Structure of 38 h","(d) Temp Structure of 39 h","(e) Zonal Wind Structure of 38 h","(f) Zonal Wind Structure of 39 h","(g) Merid Wind Structure of 38 h","(h) Merid Wind Structure of 39 h","(i) Diagnostic analysis Day 173-178","(j) Diagnostic analysis Day 219-224"];
const panelBlobs=[blobsA,blobsB,blobsC,blobsD,blobsE,blobsF,blobsG,blobsH,blobsI,blobsJ];
const rowTops=[41.3,388.3,748.3,1104.3,1457.7];
const rowBottoms=[301.7,648.3,1008.3,1364.3,1717];
const titleBaselines=[30,377,737,1093,1445];
const colLefts=[78.5,581.5];
const colRights=[511.5,1013.5];
const titleCentres=[[299,800],[299,800],[299,800],[299,800],[298,800]];
const cbarLabels=["K","K","m/s","m/s","e-5"];
const cbarLabelBase=[25,372,733,1089,1442];
const cbarLabelCentre=[1034,1034,1034,1034,1035];
const cbarMin=[2,2,5,5,0];
const cbarMax=[10,10,20,25,30];
const cbarTicks=[cbarTempTicks,cbarTempTicks,cbarZonalTicks,cbarMeridTicks,cbarDiagTicks];
const altRange=[16.7,80.3];
const cbarLeft=1024,cbarRight=1043.5;
const wide=1.065;

const svg=document.getElementById('figure');
const NS="http://www.w3.org/2000/svg";
function mk(tag,attrs,parent){
  const el=document.createElementNS(NS,tag);
  for(const k in attrs)el.setAttribute(k,attrs[k]);
  parent.appendChild(el);
  return el;
}
function stretch(el,f){
  el.setAttribute('textLength',(el.getComputedTextLength()*f).toFixed(1));
  el.setAttribute('lengthAdjust','spacingAndGlyphs');
}
function fitLength(el,len){
  el.setAttribute('textLength',len);
  el.setAttribute('lengthAdjust','spacingAndGlyphs');
}
const cmap=[[0,56,40,160],[.0625,64,46,205],[.125,68,70,235],[.19,60,105,250],[.25,45,135,245],[.375,25,170,220],[.5,0,185,185],[.625,75,195,125],[.75,190,185,50],[.875,254,188,48],[1,250,250,20]];
function color(t){
  t=Math.max(0,Math.min(1,t));
  for(let i=1;i<cmap.length;i++){
    if(t<=cmap[i][0]){
      const a=cmap[i-1],b=cmap[i],f=(t-a[0])/(b[0]-a[0]);
      return 'rgb('+[1,2,3].map(j=>Math.round(a[j]+(b[j]-a[j])*f)).join(',')+')';
    }
  }
  return 'rgb(250,250,20)';
}
function smoothPath(p,closed){
  const n=p.length;
  if(n<3){return 'M'+p.map(q=>q[0].toFixed(1)+' '+q[1].toFixed(1)).join('L');}
  const at=i=>closed?p[(i+n)%n]:p[Math.max(0,Math.min(n-1,i))];
  let d='M'+p[0][0].toFixed(1)+' '+p[0][1].toFixed(1);
  const segs=closed?n:n-1;
  for(let i=0;i<segs;i++){
    const a=at(i-1),b=at(i),c=at(i+1),e=at(i+2);
    d+='C'+(b[0]+(c[0]-a[0])/6).toFixed(1)+' '+(b[1]+(c[1]-a[1])/6).toFixed(1)+' '+(c[0]-(e[0]-b[0])/6).toFixed(1)+' '+(c[1]-(e[1]-b[1])/6).toFixed(1)+' '+c[0].toFixed(1)+' '+c[1].toFixed(1);
  }
  return d+(closed?'Z':'');
}
function linePath(p,closed){
  return 'M'+p.map(q=>q[0].toFixed(1)+' '+q[1].toFixed(1)).join('L')+(closed?'Z':'');
}

panelNames.forEach((pn,idx)=>{
  const row=Math.floor(idx/2),col=idx%2;
  const L=colLefts[col],R=colRights[col],T=rowTops[row],B=rowBottoms[row];
  const spectrum=row===0;
  const xr=spectrum?[-6,0]:[-80,0];
  const yr=spectrum?[0,3]:altRange;
  const xScale=v=>L+(v-xr[0])/(xr[1]-xr[0])*(R-L);
  const yScale=v=>B-(v-yr[0])/(yr[1]-yr[0])*(B-T);
  const toPx=q=>[xScale(q[0]),yScale(q[1])];
  const cmin=cbarMin[row],cmax=cbarMax[row];

  const g=mk('g',{},svg);
  
  

  const clip=mk('clipPath',{id:'clip-'+pn},g);
  mk('rect',{x:L,y:T,width:R-L,height:B-T},clip);

  const title=mk('text',{x:titleCentres[row][col],y:titleBaselines[row],'text-anchor':'middle','font-size':27.5,fill:'#000'},g);
  title.textContent=panelTitles[idx];
  
  
  stretch(title,wide);

  const plot=mk('g',{'clip-path':'url(#clip-'+pn+')'},g);
  
  

  // filled contours
  const step=(cmax-cmin)/20;
  const rings=[];
  panelBlobs[idx].forEach(b=>{
    const lo=b[0],hi=b[1],c=b[2],inner=b[3],pts=b[4];
    const n=Math.max(0,Math.round((hi-lo)/step));
    for(let k=0;k<=n;k++){
      const f=n?k/n:0;
      const s=1-f*(1-inner);
      rings.push([lo+(hi-lo)*f,pts.map(q=>[c[0]+(q[0]-c[0])*s,c[1]+(q[1]-c[1])*s])]);
    }
  });
  rings.sort((a,b)=>a[0]-b[0]);
  rings.forEach(r=>{
    const px=r[1].map(toPx);
    const fill=color((r[0]-cmin)/(cmax-cmin));
    const band=mk('path',{d:spectrum?smoothPath(px,true):linePath(px,true),fill:fill,stroke:fill,'stroke-width':.4},plot);
    
    
  });

  // diagnostic overlays
  if(row===4){
    const isI=col===0;
    dotLats.forEach(lat=>dotAlts.forEach(alt=>{
      const dot=mk('circle',{cx:xScale(lat),cy:yScale(alt),r:.9,fill:'#ffb0b0'},plot);
      
      
    }));
    (isI?contoursI:contoursJ).forEach(c=>{
      const line=mk('path',{d:smoothPath(c[2].map(toPx),!!c[0]),fill:'none',stroke:'#111','stroke-width':1,'stroke-dasharray':c[1]?'9 5':'none'},plot);
      
      
    });
    (isI?stripesI:stripesJ).forEach(s=>{
      const stripe=mk('line',{x1:xScale(s[0]),x2:xScale(s[1]),y1:yScale(s[2]),y2:yScale(s[3]),stroke:'#111','stroke-width':1,'stroke-dasharray':'8 4'},plot);
      
      
    });
    (isI?orangeI:orangeJ).forEach(o=>{
      const line=mk('path',{d:linePath(o[1].map(toPx),!!o[0]),fill:'none',stroke:'#f0a428','stroke-width':2.6,'stroke-linejoin':'round'},plot);
      
      
    });
    (isI?greenI:greenJ).forEach(o=>{
      const line=mk('path',{d:smoothPath(o.map(toPx),false),fill:'none',stroke:'#1fe01f','stroke-width':2.4},plot);
      
      
    });
    const aLat=isI?arrowLatI:arrowLatJ,aAlt=isI?arrowAltI:arrowAltJ,aU=isI?arrowUI:arrowUJ,aV=isI?arrowVI:arrowVJ;
    aLat.forEach((lat,i)=>{
      const x1=xScale(lat),y1=yScale(aAlt[i]),x2=xScale(lat+aU[i]),y2=yScale(aAlt[i]+aV[i]);
      const len=Math.hypot(x2-x1,y2-y1);
      const ang=Math.atan2(y2-y1,x2-x1),h=Math.min(10,len*.4);
      const hx=a=>x2-h*Math.cos(ang+a),hy=a=>y2-h*Math.sin(ang+a);
      const d='M'+x1+' '+y1+'L'+x2+' '+y2+(len>9?'M'+hx(.4)+' '+hy(.4)+'L'+x2+' '+y2+'L'+hx(-.4)+' '+hy(-.4):'');
      const arrow=mk('path',{d:d,fill:'none',stroke:'#f01010','stroke-width':2.2},plot);
      
      
    });
    (isI?labelsI:labelsJ).forEach(l=>{
      const x=xScale(l[1]),y=yScale(l[2]);
      const t=mk('text',{x:x,y:y,'font-size':22,fill:'#111','text-anchor':'middle','dominant-baseline':'central',transform:'rotate('+l[3]+' '+x+' '+y+')'},plot);
      t.textContent=l[0];
      
      
    });
    const ll=mk('line',{x1:xScale(legendLine[0]),x2:xScale(legendLine[1]),y1:yScale(legendLine[2]),y2:yScale(legendLine[2]),stroke:'#1fe01f','stroke-width':2.6},g);
    
    
    const lt=mk('text',{x:xScale(legendTextPos[0]),y:yScale(legendTextPos[1]),'font-size':32,fill:'#1fe01f'},g);
    lt.textContent=isI?legendTextI:legendTextJ;
    
    
  }

  // axes box
  const box=mk('rect',{x:L,y:T,width:R-L,height:B-T,fill:'none',stroke:'#262626','stroke-width':1},g);
  
  

  // x ticks
  (spectrum?waveTicks:latTicks).forEach(v=>{
    const x=xScale(v);
    const tk=mk('path',{d:'M'+x+' '+B+'V'+(B-4)+'M'+x+' '+T+'V'+(T+4),stroke:'#262626','stroke-width':1,fill:'none'},g);
    
    
    const t=mk('text',{x:x,y:B+36,'text-anchor':'middle','font-size':26,fill:'#262626'},g);
    t.textContent=String(v);
    
    
    stretch(t,wide);
  });
  // y ticks
  (spectrum?periodTicks:altTicks).forEach(v=>{
    const y=yScale(v);
    const tk=mk('path',{d:'M'+L+' '+y+'H'+(L+4)+'M'+R+' '+y+'H'+(R-4),stroke:'#262626','stroke-width':1,fill:'none'},g);
    
    
    const t=mk('text',{x:L-10,y:y+11,'text-anchor':'end','font-size':26,fill:'#262626'},g);
    t.textContent=String(v);
    
    
    stretch(t,wide);
  });
  // y title
  if(col===0){
    const yc=(T+B)/2-3;
    const tx=spectrum?44:29;
    const t=mk('text',{x:tx,y:yc,'text-anchor':'middle','font-size':27,fill:'#262626',transform:'rotate(-90 '+tx+' '+yc+')'},g);
    t.textContent=spectrum?'Period (day)':'Altitude (km)';
    
    
    fitLength(t,spectrum?136:160);
  }
  // x title
  if(row===4){
    const t=mk('text',{x:col===0?296:803,y:1785,'text-anchor':'middle','font-size':27,fill:'#262626'},g);
    t.textContent='Latitude (°)';
    
    
    fitLength(t,130);
  }
  // colour bar
  if(col===1){
    const cb=mk('g',{},g);
    
    
    const bands=40;
    for(let i=0;i<bands;i++){
      const h=(B-T)/bands;
      const r=mk('rect',{x:cbarLeft,y:B-(i+1)*h,width:cbarRight-cbarLeft,height:h+.4,fill:color((i+.5)/bands)},cb);
      
      
    }
    const fr=mk('rect',{x:cbarLeft,y:T,width:cbarRight-cbarLeft,height:B-T,fill:'none',stroke:'#262626','stroke-width':1},cb);
    
    
    cbarTicks[row].forEach(v=>{
      const y=B-(v-cmin)/(cmax-cmin)*(B-T);
      const tk=mk('line',{x1:cbarRight-3,x2:cbarRight,y1:y,y2:y,stroke:'#262626','stroke-width':1},cb);
      
      
      const t=mk('text',{x:1050,y:y+10,'font-size':26,fill:'#262626'},cb);
      t.textContent=String(v);
      
      
      stretch(t,wide);
    });
    const u=mk('text',{x:cbarLabelCentre[row],y:cbarLabelBase[row],'text-anchor':'middle','font-size':27.5,fill:'#262626'},cb);
    u.textContent=cbarLabels[row];
    
    
    stretch(u,wide);
  }
});
</script>
</body>
</html>
